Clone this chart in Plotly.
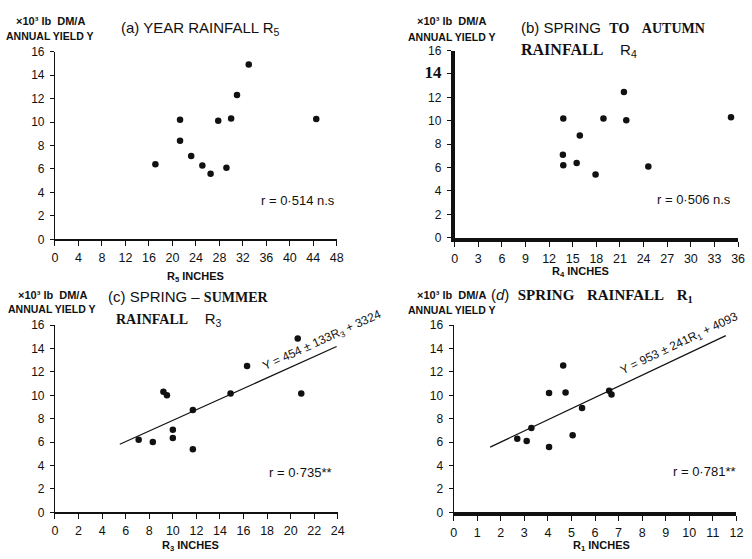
import math
import plotly.graph_objects as go

W, H = 752, 559

# ---- data: annual yield (10^3 lb DM/A) against rainfall totals (inches) ----
r5_inches = [17.1, 21.3, 21.3, 23.2, 25.1, 26.5, 27.8, 29.2, 30.0, 31.0, 33.0, 44.5]
yield_a = [6.4, 10.2, 8.4, 7.1, 6.3, 5.6, 10.1, 6.1, 10.3, 12.3, 14.9, 10.25]

r4_inches = [13.8, 13.75, 13.8, 15.5, 15.9, 17.9, 18.9, 21.5, 21.8, 24.6, 35.1]
yield_b = [10.2, 7.1, 6.2, 6.4, 8.75, 5.4, 10.2, 12.45, 10.05, 6.1, 10.3]

r3_inches = [7.1, 8.3, 9.2, 9.5, 10.0, 10.0, 11.7, 11.7, 14.9, 16.3, 20.6, 20.9]
yield_c = [6.2, 6.0, 10.3, 10.0, 7.06, 6.36, 8.75, 5.4, 10.15, 12.5, 14.85, 10.15]

r1_inches = [2.7, 3.1, 3.3, 4.05, 4.05, 4.65, 4.75, 5.05, 5.45, 6.6, 6.7]
yield_d = [6.28, 6.1, 7.2, 10.2, 5.58, 12.56, 10.25, 6.58, 8.92, 10.4, 10.08]

# fitted regressions: Y = b*R + a (lb/A, plotted in 10^3 lb), with s.e. of b
fit_c = {"slope": 454, "se": 133, "intercept": 3324, "x0": 5.5, "x1": 23.9}
fit_d = {"slope": 953, "se": 241, "intercept": 4093, "x0": 1.55, "x1": 11.55}

corr_labels = ["r = 0·514 n.s", "r = 0·506 n.s", "r = 0·735**", "r = 0·781**"]
y_ticks = [0, 2, 4, 6, 8, 10, 12, 14, 16]
x_ticks_a = list(range(0, 49, 4))
x_ticks_b = list(range(0, 37, 3))
x_ticks_c = list(range(0, 25, 2))
x_ticks_d = list(range(0, 13, 1))

SANS = "Liberation Sans"
SERIF = "Liberation Serif"
INK = "#111111"


def px(x, y):
    """pixel position -> paper fraction"""
    return x / W, 1 - y / H


# panel frames in pixels: (left, right, bottom, top)
frames = [
    (52.7, 338.3, 238.3, 45.8),
    (457.7, 745.0, 236.7, 44.7),
    (52.7, 339.3, 518.3, 326.3),
    (456.7, 743.3, 518.3, 326.3),
]

fig = go.Figure()

series = [(r5_inches, yield_a), (r4_inches, yield_b), (r3_inches, yield_c), (r1_inches, yield_d)]
for i, (xs, ys) in enumerate(series):
    suffix = "" if i == 0 else str(i + 1)
    fig.add_trace(go.Scatter(
        x=xs, y=ys, mode="markers",
        marker=dict(color=INK, size=6.5, line=dict(width=0)),
        xaxis="x" + suffix, yaxis="y" + suffix, cliponaxis=False, showlegend=False,
    ))

for fit, suffix in [(fit_c, "3"), (fit_d, "4")]:
    xs = [fit["x0"], fit["x1"]]
    ys = [(fit["slope"] * x + fit["intercept"]) / 1000 for x in xs]
    fig.add_trace(go.Scatter(
        x=xs, y=ys, mode="lines", line=dict(color=INK, width=1.2),
        xaxis="x" + suffix, yaxis="y" + suffix, showlegend=False,
    ))

x_ranges = [[0, 48], [0, 36], [0, 24], [0, 12]]
x_tickvals = [x_ticks_a, x_ticks_b, x_ticks_c, x_ticks_d]
x_line_w = [1.5, 3.5, 1.5, 4]
y_line_w = [1.2, 3.5, 1.2, 1.2]

layout = dict(
    width=W, height=H, margin=dict(l=0, r=0, t=0, b=0),
    paper_bgcolor="white", plot_bgcolor="white", showlegend=False,
)

for i, (l, r, b, t) in enumerate(frames):
    suffix = "" if i == 0 else str(i + 1)
    xd = [l / W, r / W]
    yd = [1 - b / H, 1 - t / H]
    ytext = [str(v) for v in y_ticks]
    if i == 1:
        ytext[7] = '<span style="font-family:Liberation Serif;font-size:17px"><b>14</b></span>'
    layout["xaxis" + suffix] = dict(
        domain=xd, range=x_ranges[i], anchor="y" + suffix,
        tickmode="array", tickvals=x_tickvals[i],
        ticks="outside", ticklen=5, tickwidth=1, tickcolor=INK,
        showline=True, linecolor=INK, linewidth=x_line_w[i],
        showgrid=False, zeroline=False,
        tickfont=dict(family=SANS, size=12.5, color=INK), ticklabelstandoff=1,
        fixedrange=True,
    )
    layout["yaxis" + suffix] = dict(
        domain=yd, range=[0, 16], anchor="x" + suffix,
        tickmode="array", tickvals=y_ticks, ticktext=ytext,
        ticks="outside", ticklen=4, tickwidth=1, tickcolor=INK,
        showline=True, linecolor=INK, linewidth=y_line_w[i],
        showgrid=False, zeroline=False,
        tickfont=dict(family=SANS, size=12, color=INK), ticklabelstandoff=3,
        fixedrange=True,
    )

fig.update_layout(**layout)

annotations = []


def label(text, x, y, size=12, family=SANS, anchor="center", color=INK):
    ax, ay = px(x, y)
    annotations.append(dict(
        text=text, x=ax, y=ay, xref="paper", yref="paper",
        xanchor=anchor, yanchor="middle", showarrow=False,
        font=dict(family=family, size=size, color=color),
    ))


def serif(t, size=14):
    return f'<span style="font-family:{SERIF};font-size:{size}px"><b>{t}</b></span>'


# y-axis unit labels
for (cx, y1, y2) in [(48, 14, 30), (455, 14, 31), (50, 295, 310), (455, 295, 311)]:
    label("<b>×10³ lb  DM/A</b>", cx, y1, size=11)
    label("<b>ANNUAL YIELD Y</b>", cx, y2, size=10.5)

# panel titles
label("(a) YEAR RAINFALL R<sub>5</sub>", 118, 22, size=15, anchor="left")
label("(b) SPRING  " + serif("TO", 14) + "   " + serif("AUTUMN", 14), 523, 21, size=15, anchor="left")
label(serif("RAINFALL", 16) + "    R<sub>4</sub>", 523, 45, size=15, anchor="left")
label("(c) SPRING – " + serif("SUMMER", 14), 104, 297, size=15, anchor="left")
label(serif("RAINFALL", 14) + "    R<sub>3</sub>", 112, 321, size=15, anchor="left")
label("(<i>d</i>)  " + serif("SPRING", 15) + "   " + serif("RAINFALL", 15) + "   " + serif("R<sub>1</sub>", 15),
      493, 296, size=15, anchor="left")

# x-axis titles
label("<b>R<sub>5</sub> INCHES</b>", 195, 277, size=11)
label("<b>R<sub>4</sub> INCHES</b>", 585, 272, size=11)
label("<b>R<sub>3</sub> INCHES</b>", 190, 553, size=11)
label("<b>R<sub>1</sub> INCHES</b>", 607, 553, size=11)

# correlation coefficients
label(corr_labels[0], 299, 198, size=13)
label(corr_labels[1], 700, 197, size=13)
label(corr_labels[2], 302, 477, size=13)
label(corr_labels[3], 711, 476, size=13)

fig.update_layout(annotations=annotations)

# regression equations written along the fitted lines
for fit, suffix, sub, xc, xpx, yshift in [(fit_c, "3", "3", 23.0, 11.93, 10), (fit_d, "4", "1", 9.75, 23.97, 12)]:
    screen_slope = (fit["slope"] / 1000) * 12.0 / xpx
    ang = -math.degrees(math.atan(screen_slope))
    yc = (fit["slope"] * xc + fit["intercept"]) / 1000
    fig.add_annotation(
        text=f'Y = {fit["slope"]} ± {fit["se"]}R<sub>{sub}</sub> + {fit["intercept"]}',
        x=xc, y=yc, xref="x" + suffix, yref="y" + suffix,
        xshift=-4, yshift=yshift, textangle=ang, showarrow=False,
        font=dict(family=SANS, size=12, color=INK),
    )

fig.write_html("out.html")
